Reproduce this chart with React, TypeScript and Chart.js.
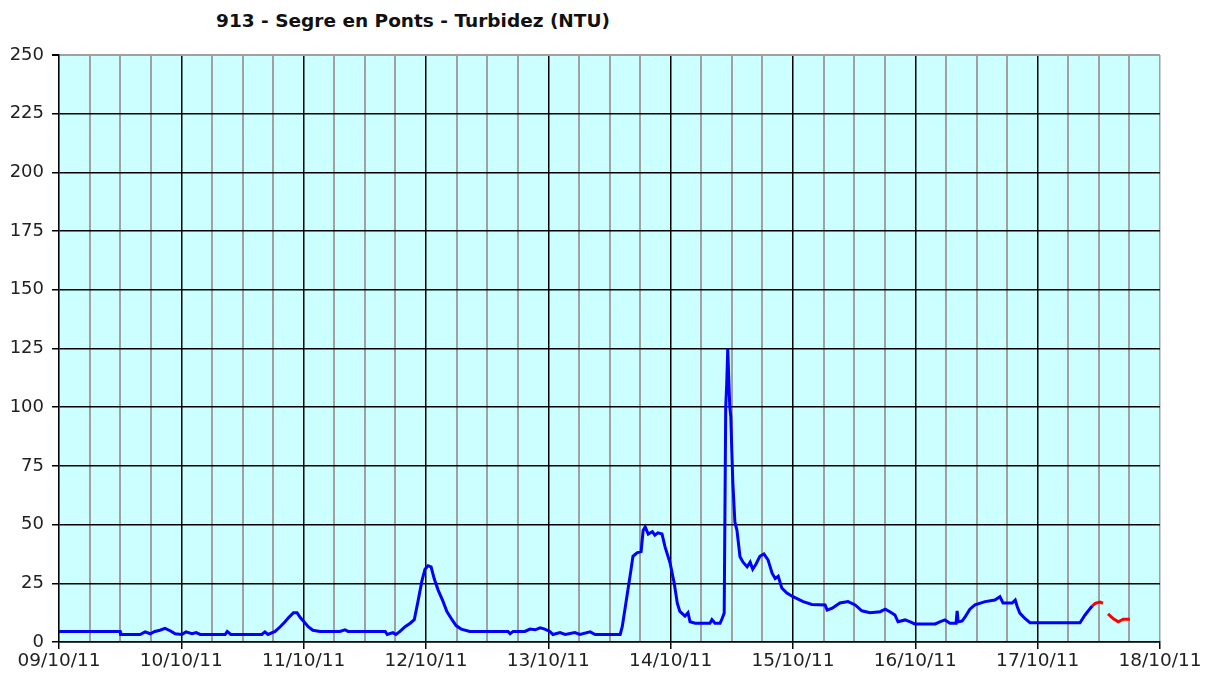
import React, { useEffect, useRef } from "react";
import { Chart, registerables } from "chart.js";

Chart.register(...registerables);

const chartTitle = "913 - Segre en Ponts - Turbidez (NTU)";
const dayLabels = ["09/10/11", "10/10/11", "11/10/11", "12/10/11", "13/10/11", "14/10/11", "15/10/11", "16/10/11", "17/10/11", "18/10/11"];
const yTicks = [0, 25, 50, 75, 100, 125, 150, 175, 200, 225, 250];

// hours since 09/10/11 00:00
const blueHours = [
  0, 12, 12.1, 15.9, 16.9, 17.9, 18.8, 19.8, 20.8, 21.8, 22.8, 24.1, 24.9, 26.1, 26.9, 27.7, 32.6, 33, 33.7, 39.8,
  40.4, 41, 42.4, 43.4, 44.3, 45.1, 46, 46.7, 47.3, 48.1, 48.9, 49.8, 51.2, 55.1, 56.1, 56.7, 64, 64.4, 65.5, 66.1,
  66.9, 67.9, 68.9, 69.7, 70.4, 71.2, 71.8, 72.4, 73, 73.6, 74.4, 75.3, 76.1, 77.1, 77.9, 78.9, 80.6, 88.1, 88.5, 89.1,
  91.4, 92.4, 93.4, 94.4, 95.3, 96.3, 96.9, 98.3, 99.3, 101.2, 102.2, 104.2, 105.2, 110.1, 110.5, 111, 111.6, 112.2, 112.6, 113.4,
  114.2, 114.6, 115, 115.6, 116.4, 116.9, 117.5, 118.3, 118.9, 119.9, 120.7, 121.3, 121.8, 122.8, 123.4, 123.8, 124.8, 127.7, 128.1, 128.7,
  129.7, 130.1, 130.5, 130.8, 131, 131.2, 131.4, 131.6, 131.8, 132, 132.2, 132.6, 133, 133.6, 134.2, 135, 135.6, 136.1, 136.7, 137.5,
  138.3, 139.1, 139.9, 140.5, 141.1, 141.8, 142.8, 144, 146, 147.7, 150.3, 150.7, 151.7, 153.2, 154.8, 156.2, 157.5, 159.1, 161.1, 162.1,
  163, 164, 164.6, 166, 167, 167.9, 171.9, 172.8, 173.8, 174.8, 176, 176.2, 176.4, 177.2, 177.8, 178.7, 179.7, 181.7, 183.6, 184.6,
  185.2, 187, 187.6, 188, 188.5, 189.5, 190.5, 200.3, 201.3, 202.3, 202.7
];
const blueValues = [
  4.5, 4.5, 3.2, 3.2, 4.3, 3.5, 4.5, 5.0, 5.8, 4.8, 3.5, 3.2, 4.3, 3.5, 4.0, 3.2, 3.2, 4.5, 3.2, 3.2,
  4.3, 3.2, 4.5, 6.5, 8.5, 10.5, 12.5, 12.5, 10.5, 8.5, 6.5, 5.0, 4.5, 4.5, 5.2, 4.5, 4.5, 3.2, 4.0, 3.2,
  4.5, 6.5, 8.0, 9.5, 17, 26, 31, 32.5, 32, 27, 22, 17.5, 13, 9.5, 7, 5.5, 4.5, 4.5, 3.5, 4.5,
  4.5, 5.5, 5.2, 6, 5.5, 4.5, 3.2, 4, 3.2, 4, 3.2, 4.3, 3.2, 3.2, 6.5, 13.5, 22, 30.5, 36.5, 38,
  38.5, 47.5, 49, 46, 47, 45.5, 46.5, 46, 40.5, 33.5, 25, 16.5, 13, 11, 12.5, 8.6, 8, 8, 9.5, 8,
  8, 10, 12.3, 100, 110, 125, 112, 100, 96, 81, 67.7, 51, 47.7, 36.3, 34, 32, 34, 31, 33, 36.5,
  37.5, 35, 29.3, 27, 28, 23, 20.8, 19.3, 17.2, 16, 15.8, 13.6, 14.4, 16.6, 17.2, 15.8, 13.3, 12.5, 12.9, 14,
  12.9, 11.5, 8.6, 9.4, 8.6, 7.7, 7.7, 8.6, 9.4, 8, 8, 13.3, 8.6, 9, 10.8, 14, 15.8, 17.2, 17.9, 19.3,
  16.6, 16.6, 17.9, 15, 12.3, 10, 8.2, 8.2, 11.5, 14.3, 15.3
];
const redHours = [202.7, 203.3, 204.2, 204.8, 205.3, 205.8, 206.8, 207.8, 208.8, 210.1];
const redValues = [15.3, 16.5, 17, 16.5, null, 12, 10, 8.6, 9.7, 9.7];

const FONT = "'DejaVu Sans', Verdana, sans-serif";

const plotBackground = {
  id: "plotBackground",
  beforeDraw(chart: any) {
    const { ctx, chartArea } = chart;
    ctx.save();
    ctx.fillStyle = "#CCFFFF";
    ctx.fillRect(chartArea.left, chartArea.top, chartArea.right - chartArea.left, chartArea.bottom - chartArea.top);
    ctx.restore();
  },
};

export default function App() {
  const ref = useRef<HTMLCanvasElement>(null);

  useEffect(() => {
    document.body.style.margin = "0";
    const canvas = ref.current;
    if (!canvas) return;
    const blueData = blueHours.map((h, i) => ({ x: h, y: blueValues[i] }));
    const redData = redHours.map((h, i) => ({ x: h, y: redValues[i] }));
    const chart = new Chart(canvas, {
      type: "line",
      data: {
        datasets: [
          {
            data: blueData as any,
            borderColor: "#0000FF",
            borderWidth: 3,
            pointRadius: 0,
            tension: 0,
            spanGaps: false,
          },
          {
            data: redData as any,
            borderColor: "#FF0000",
            borderWidth: 3,
            pointRadius: 0,
            tension: 0,
            spanGaps: false,
          },
        ],
      },
      options: {
        responsive: false,
        animation: false,
        layout: { padding: { left: 0, right: 45, top: 55, bottom: 0 } },
        plugins: {
          legend: { display: false },
          title: { display: false },
          tooltip: { enabled: false },
        },
        scales: {
          x: {
            type: "linear",
            min: 0,
            max: 216,
            afterBuildTicks(scale: any) {
              const t = [];
              for (let v = 0; v <= 216; v += 6) t.push({ value: v });
              scale.ticks = t;
            },
            afterFit(scale: any) {
              scale.height = 35;
            },
            ticks: {
              autoSkip: false,
              maxRotation: 0,
              padding: 1,
              color: "#222",
              font: { family: FONT, size: 18.5 },
              callback: (v: any) => (Number(v) % 24 === 0 ? dayLabels[Number(v) / 24] : ""),
            },
            grid: {
              color: (c: any) => (c.tick && c.tick.value % 24 === 0 && c.tick.value !== 0 && c.tick.value !== 216 ? "#000" : "#A0A0A0"),
              lineWidth: (c: any) => (c.tick && c.tick.value % 24 === 0 ? 1.5 : 2),
              tickColor: (c: any) => (c.tick && c.tick.value % 24 === 0 ? "#000" : "rgba(0,0,0,0)"),
              tickLength: 7,
              drawTicks: true,
            },
            border: { color: "#000", width: 1.5 },
          },
          y: {
            min: 0,
            max: 250,
            afterBuildTicks(scale: any) {
              scale.ticks = yTicks.map((v) => ({ value: v }));
            },
            afterFit(scale: any) {
              scale.width = 59;
            },
            ticks: {
              padding: 8,
              color: "#222",
              font: { family: FONT, size: 18 },
            },
            grid: {
              color: (c: any) => (c.tick && c.tick.value === 250 ? "#A0A0A0" : "#000"),
              lineWidth: (c: any) => (c.tick && c.tick.value === 250 ? 2 : 1.5),
              tickColor: "#000",
              tickLength: 7,
            },
            border: { color: "#000", width: 1.5 },
          },
        },
      },
      plugins: [plotBackground],
    });
    return () => chart.destroy();
  }, []);

  return (
    <div style={{ position: "relative", width: 1205, height: 677, background: "#fff" }}>
      <div
        style={{
          position: "absolute",
          left: 0,
          width: 826,
          top: 10,
          textAlign: "center",
          fontFamily: FONT,
          fontWeight: "bold",
          fontSize: 18.5,
          color: "#111",
        }}
      >
        {chartTitle}
      </div>
      <canvas ref={ref} width={1205} height={677} style={{ position: "absolute", left: 0, top: 0 }} />
    </div>
  );
}
